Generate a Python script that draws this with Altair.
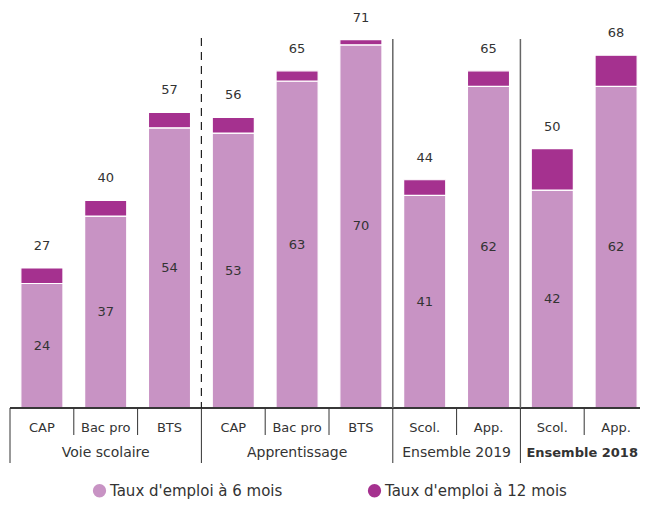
import altair as alt
import pandas as pd

categories = ["CAP", "Bac pro", "BTS", "CAP", "Bac pro", "BTS", "Scol.", "App.", "Scol.", "App."]
groups = ["Voie scolaire"] * 3 + ["Apprentissage"] * 3 + ["Ensemble 2019"] * 2 + ["Ensemble 2018"] * 2
taux_6 = [24, 37, 54, 53, 63, 70, 41, 62, 42, 62]
taux_12 = [27, 40, 57, 56, 65, 71, 44, 65, 50, 68]
series = ["Taux d'emploi à 6 mois", "Taux d'emploi à 12 mois"]
colors = ["#C893C4", "#A5318F"]
group_names = ["Voie scolaire", "Apprentissage", "Ensemble 2019", "Ensemble 2018"]
group_bold = [False, False, False, True]
separator_dashed = [True, False, False]

FONT = "DejaVu Sans"
TXT = "#333333"
STEP = 63.8          # pixels per category
W, H = 630, 400

n = len(categories)
df = pd.DataFrame({"idx": list(range(n)), "cat": categories, "grp": groups,
                   "t6": taux_6, "t12": taux_12})

rows = []
for i, (a, b) in enumerate(zip(taux_6, taux_12)):
    rows.append({"idx": i, "serie": series[0], "y0": 0, "y1": a})
    rows.append({"idx": i, "serie": series[1], "y0": a, "y1": b})
bars_df = pd.DataFrame(rows)

starts = [groups.index(g) for g in group_names]
ends = [s + groups.count(g) for s, g in zip(starts, group_names)]
grp_df = pd.DataFrame({"name": group_names, "start": starts, "end": ends, "bold": group_bold})
grp_df["mid"] = (grp_df["start"] + grp_df["end"]) / 2

sub_b = [i for i in range(1, n) if i not in starts]
grp_b = starts + [n]
sub_df = pd.DataFrame({"b": sub_b})
gb_df = pd.DataFrame({"b": grp_b})
sep_df = pd.DataFrame({"b": starts[1:], "dashed": separator_dashed})

xs = alt.Scale(domain=[0, W / STEP], nice=False, zero=False)
ys = alt.Scale(domain=[0, 77.1], nice=False, zero=False)

bars = alt.Chart(bars_df).mark_bar(stroke="white", strokeWidth=1.2).transform_calculate(
    xa="datum.idx + 0.17", xb="datum.idx + 0.83"
).encode(
    x=alt.X("xa:Q", scale=xs, axis=None),
    x2="xb:Q",
    y=alt.Y("y0:Q", scale=ys, axis=None),
    y2="y1:Q",
    color=alt.Color("serie:N", scale=alt.Scale(domain=series, range=colors),
                    legend=alt.Legend(title=None, orient="none", legendX=82, legendY=475,
                                      direction="horizontal", symbolType="circle",
                                      symbolSize=177, symbolStrokeWidth=0,
                                      labelFontSize=15, labelFont=FONT, labelColor=TXT,
                                      columnPadding=84, labelOffset=3, labelLimit=400)),
)

base = alt.Chart(df).transform_calculate(xm="datum.idx + 0.5", ym="datum.t6 / 2")

inner = base.mark_text(fontSize=13, font=FONT, color=TXT).encode(
    x=alt.X("xm:Q", scale=xs, axis=None),
    y=alt.Y("ym:Q", scale=ys, axis=None),
    text="t6:Q",
)
top = base.mark_text(fontSize=13, font=FONT, color=TXT, dy=-22).encode(
    x=alt.X("xm:Q", scale=xs, axis=None),
    y=alt.Y("t12:Q", scale=ys, axis=None),
    text="t12:Q",
)

axis_line = alt.Chart(gb_df).mark_rule(color=TXT, strokeWidth=1).encode(
    x=alt.value(0), x2=alt.value(W), y=alt.value(H)
)
sub_ticks = alt.Chart(sub_df).mark_rule(color=TXT, strokeWidth=1).encode(
    x=alt.X("b:Q", scale=xs, axis=None), y=alt.value(H), y2=alt.value(H + 27)
)
grp_ticks = alt.Chart(gb_df).mark_rule(color=TXT, strokeWidth=1).encode(
    x=alt.X("b:Q", scale=xs, axis=None), y=alt.value(H), y2=alt.value(H + 55)
)
sep_dash = alt.Chart(sep_df).transform_filter("datum.dashed").mark_rule(
    color="#222222", strokeWidth=1.2, strokeDash=[8, 6]
).encode(x=alt.X("b:Q", scale=xs, axis=None), y=alt.value(30), y2=alt.value(H))
sep_solid = alt.Chart(sep_df).transform_filter("!datum.dashed").mark_rule(
    color="#666666", strokeWidth=1.5
).encode(x=alt.X("b:Q", scale=xs, axis=None), y=alt.value(31), y2=alt.value(H))

cat_lbl = base.mark_text(fontSize=13, font=FONT, color=TXT, baseline="middle").encode(
    x=alt.X("xm:Q", scale=xs, axis=None), y=alt.value(H + 20), text="cat:N"
)
grp_lbl = alt.Chart(grp_df).transform_filter("!datum.bold").mark_text(
    fontSize=14, font=FONT, color=TXT, baseline="middle"
).encode(x=alt.X("mid:Q", scale=xs, axis=None), y=alt.value(H + 45), text="name:N")
grp_lbl_b = alt.Chart(grp_df).transform_filter("datum.bold").mark_text(
    fontSize=13, font=FONT, color=TXT, baseline="middle", fontWeight="bold", dx=-2
).encode(x=alt.X("mid:Q", scale=xs, axis=None), y=alt.value(H + 45), text="name:N")

chart = alt.layer(
    bars, inner, top, axis_line, sub_ticks, grp_ticks, sep_dash, sep_solid,
    cat_lbl, grp_lbl, grp_lbl_b
).properties(
    width=W, height=H,
    autosize=alt.AutoSizeParams(type="none"),
    padding={"left": 2, "top": 0, "right": 0, "bottom": 92},
).configure_view(stroke=None)

chart.save("out.html", embed_options={"renderer": "svg", "actions": False})
